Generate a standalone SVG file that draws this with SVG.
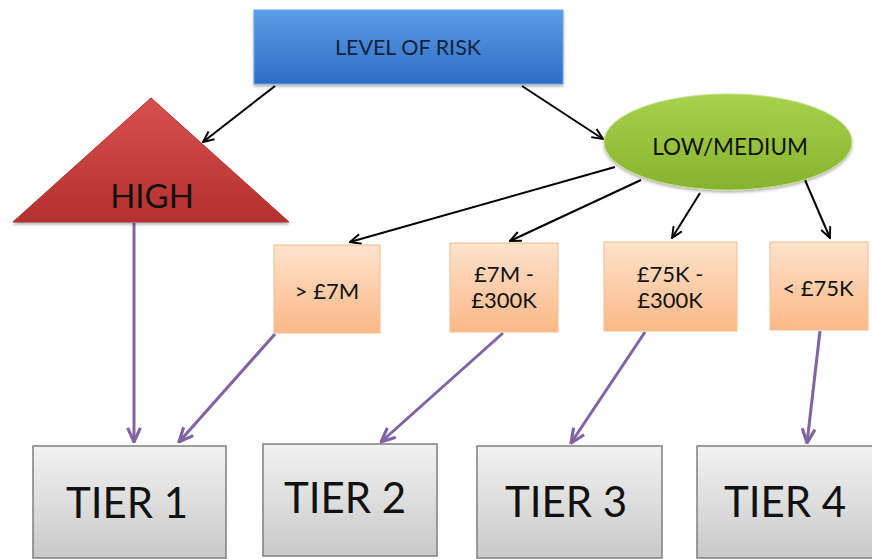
<svg xmlns="http://www.w3.org/2000/svg" width="872" height="559" viewBox="0 0 872 559">
<style>
text{font-family:Lato,"Liberation Sans",sans-serif;fill:#111;text-anchor:middle}
.blk{stroke:#000;stroke-width:2;fill:none}
.pur{stroke:#8064a2;stroke-width:3;fill:none}
.amt{font-size:22px}
.tier{font-size:42px}
.tbox{fill:url(#gGray);stroke:#7f7f7f;stroke-width:1.5}
.obox{fill:url(#gOrange);stroke:#f3c49c;stroke-width:1.2}
</style>
<defs>
<linearGradient id="gBlue" x1="0" y1="0" x2="0" y2="1"><stop offset="0" stop-color="#5b9de6"/><stop offset="1" stop-color="#2f6cc4"/></linearGradient>
<linearGradient id="gRed" x1="0" y1="0" x2="0" y2="1"><stop offset="0" stop-color="#d9504f"/><stop offset="1" stop-color="#b4302f"/></linearGradient>
<linearGradient id="gGreen" x1="0" y1="0" x2="0" y2="1"><stop offset="0" stop-color="#a8d24c"/><stop offset="1" stop-color="#87b22e"/></linearGradient>
<linearGradient id="gOrange" x1="0" y1="0" x2="0" y2="1"><stop offset="0" stop-color="#fee3cc"/><stop offset="1" stop-color="#fbb887"/></linearGradient>
<linearGradient id="gGray" x1="0" y1="0" x2="0" y2="1"><stop offset="0" stop-color="#f2f2f2"/><stop offset="1" stop-color="#c9c9c9"/></linearGradient>
<filter id="sh" x="-10%" y="-10%" width="120%" height="130%"><feDropShadow dx="0" dy="2" stdDeviation="1.5" flood-color="#000" flood-opacity="0.3"/></filter>
<marker id="aB" viewBox="0 0 12 12" refX="11" refY="6" markerWidth="13" markerHeight="13" markerUnits="userSpaceOnUse" orient="auto"><path d="M1,1.5 L11,6 L1,10.5" fill="none" stroke="#000" stroke-width="1.8"/></marker>
<marker id="aP" viewBox="0 0 12 12" refX="11" refY="6" markerWidth="17" markerHeight="17" markerUnits="userSpaceOnUse" orient="auto"><path d="M1,1.5 L11,6 L1,10.5" fill="none" stroke="#8064a2" stroke-width="2.2"/></marker>
</defs>

<g id="connectors">
<line class="blk" x1="275" y1="86" x2="203" y2="142" marker-end="url(#aB)"/>
<line class="blk" x1="522" y1="86" x2="603" y2="139" marker-end="url(#aB)"/>
<line class="blk" x1="615" y1="167" x2="350" y2="242" marker-end="url(#aB)"/>
<line class="blk" x1="641" y1="180" x2="510" y2="241" marker-end="url(#aB)"/>
<line class="blk" x1="700" y1="193" x2="672" y2="238" marker-end="url(#aB)"/>
<line class="blk" x1="805" y1="180" x2="830" y2="238" marker-end="url(#aB)"/>
<line class="pur" x1="134" y1="223" x2="134" y2="442" marker-end="url(#aP)"/>
<line class="pur" x1="275" y1="334" x2="179" y2="442" marker-end="url(#aP)"/>
<line class="pur" x1="503" y1="333" x2="381" y2="442" marker-end="url(#aP)"/>
<line class="pur" x1="645" y1="332" x2="571" y2="443" marker-end="url(#aP)"/>
<line class="pur" x1="820" y1="331" x2="807" y2="443" marker-end="url(#aP)"/>
</g>

<g id="level">
<rect x="254" y="10" width="309" height="74" fill="url(#gBlue)" stroke="#6aa5e8" stroke-width="1" filter="url(#sh)"/>
<text x="408" y="55" font-size="21.5" style="fill:#14233a">LEVEL OF RISK</text>
</g>

<g id="high">
<polygon points="151,98 289,222 13,222" fill="url(#gRed)" stroke="#a83030" stroke-width="1" filter="url(#sh)"/>
<text x="152" y="208" font-size="33">HIGH</text>
</g>

<g id="lowmed">
<ellipse cx="728" cy="142" rx="124" ry="48" fill="url(#gGreen)" stroke="#c3de8a" stroke-width="1" filter="url(#sh)"/>
<text x="730" y="155" font-size="22.5">LOW/MEDIUM</text>
</g>

<g id="b1">
<rect x="274" y="245" width="106" height="88" class="obox"/>
<text x="327" y="299" class="amt">&gt; £7M</text>
</g>
<g id="b2">
<rect x="450" y="243" width="108" height="89" class="obox"/>
<text x="504" y="282" class="amt">£7M -</text>
<text x="504" y="308" class="amt">£300K</text>
</g>
<g id="b3">
<rect x="604" y="242" width="133" height="89" class="obox"/>
<text x="670" y="282" class="amt">£75K -</text>
<text x="670" y="308" class="amt">£300K</text>
</g>
<g id="b4">
<rect x="770" y="242" width="98" height="88" class="obox"/>
<text x="818" y="296" class="amt">&lt; £75K</text>
</g>

<g id="t1">
<rect x="33" y="446" width="193" height="112" class="tbox"/>
<text x="127" y="518" class="tier">TIER 1</text>
</g>
<g id="t2">
<rect x="263" y="444" width="174" height="112" class="tbox"/>
<text x="345" y="513" class="tier">TIER 2</text>
</g>
<g id="t3">
<rect x="477" y="446" width="185" height="112" class="tbox"/>
<text x="566" y="517" class="tier">TIER 3</text>
</g>
<g id="t4">
<rect x="697" y="446" width="185" height="112" class="tbox"/>
<text x="785" y="517" class="tier">TIER 4</text>
</g>
</svg>
